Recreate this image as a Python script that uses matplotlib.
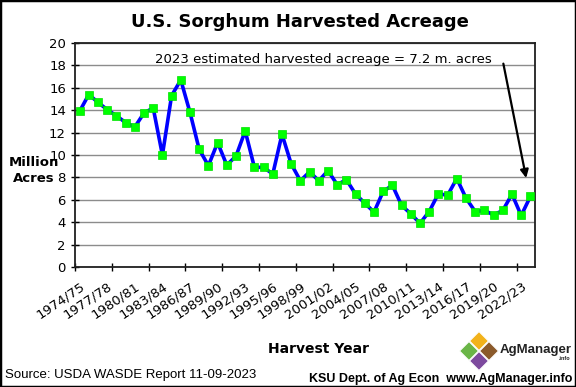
import numpy as np
import matplotlib
matplotlib.use("Agg")
from matplotlib import pyplot as plt
from matplotlib.patches import Polygon, Rectangle

# harvest years 1974/75 .. 2023/24
start_years = list(range(1974, 2024))
years = [f"{y}/{str(y + 1)[-2:]}" for y in start_years]

# million acres harvested
acres = [13.9, 15.4, 14.7, 14.05, 13.5, 12.9, 12.5, 13.75, 14.2, 10.0,
         15.3, 16.7, 13.8, 10.5, 9.05, 11.1, 9.1, 9.9, 12.15, 8.9,
         8.9, 8.3, 11.85, 9.2, 7.7, 8.5, 7.7, 8.6, 7.35, 7.8,
         6.5, 5.7, 4.9, 6.75, 7.3, 5.5, 4.75, 3.9, 4.95, 6.55,
         6.4, 7.9, 6.15, 4.95, 5.05, 4.65, 5.05, 6.5, 4.6, 6.3]

W, H = 576, 387


def px(x, y):
    # pixel position -> figure fraction
    return (x / W, 1 - y / H)


fig = plt.figure(figsize=(W / 100, H / 100), dpi=100)
ax = fig.add_axes([75 / W, 1 - 267 / H, 460 / W, 224 / H])

x = np.arange(len(acres))
ax.plot(x, acres, color="#0000FF", linewidth=2.6, marker="s", markersize=5.3,
        markerfacecolor="#00FF00", markeredgecolor="#00E000", markeredgewidth=0.5,
        zorder=3)

ax.set_xlim(-0.5, len(acres) - 0.5)
ax.set_ylim(0, 20)
ax.set_yticks(range(0, 21, 2))
ax.yaxis.grid(True, color="#8c8c8c", linewidth=1)
ax.set_axisbelow(True)
ax.tick_params(axis="y", direction="inout", length=6, labelsize=9.5, width=1)

lab_idx = list(range(0, len(years), 3))
ax.set_xticks(lab_idx)
ax.set_xticklabels([years[i] for i in lab_idx], rotation=34, ha="right",
                   rotation_mode="anchor", fontsize=9.5)
ax.tick_params(axis="x", which="major", length=0, pad=9)
ax.set_xticks(np.arange(-0.5, len(years) - 1, 4), minor=True)
ax.tick_params(axis="x", which="minor", direction="inout", length=6, width=1)

for s in ax.spines.values():
    s.set_color("#202020")
    s.set_linewidth(1.3)

ax.text(0.54, 0.955, "2023 estimated harvested acreage = 7.2 m. acres",
        transform=ax.transAxes, ha="center", va="top", fontsize=9.5)
ax.annotate("", xy=(48.6, 7.7), xytext=(46.0, 18.4),
            arrowprops=dict(arrowstyle="-|>", color="black", lw=1.6,
                            mutation_scale=12))

fig.text(*px(300, 22), "U.S. Sorghum Harvested Acreage", ha="center",
         va="center", fontsize=13, fontweight="bold")
fig.text(*px(34, 162), "Million", ha="center", va="center", fontsize=9.5,
         fontweight="bold")
fig.text(*px(34, 178), "Acres", ha="center", va="center", fontsize=9.5,
         fontweight="bold")
fig.text(*px(318, 349), "Harvest Year", ha="center", va="center",
         fontsize=10, fontweight="bold")
fig.text(*px(5, 375), "Source: USDA WASDE Report 11-09-2023", ha="left",
         va="center", fontsize=9.5, family="Liberation Sans")
fig.text(*px(572, 379), "KSU Dept. of Ag Econ  www.AgManager.info",
         ha="right", va="center", fontsize=9, fontweight="bold",
         family="Liberation Sans")

# AgManager logo: four diamonds + name
dia = [((479, 341), "#f2b21b"), ((469, 351), "#6ab547"),
       ((489, 351), "#8b5a2b"), ((479, 361), "#7d4a9e")]
r = 9.5
for (cx, cy), col in dia:
    pts = [px(cx, cy - r), px(cx + r, cy), px(cx, cy + r), px(cx - r, cy)]
    fig.patches.append(Polygon(pts, closed=True, transform=fig.transFigure,
                               facecolor=col, edgecolor="white", lw=0.8))
fig.text(*px(500, 350), "AgManager", ha="left", va="center", fontsize=9.5,
         fontweight="bold", color="#222222", family="Liberation Sans")
fig.text(*px(570, 359), ".info", ha="right", va="center", fontsize=4,
         fontweight="bold", color="#222222", family="Liberation Sans")

fig.patches.append(Rectangle((0, 0), 1, 1, transform=fig.transFigure,
                             fill=False, edgecolor="black", lw=2.5))

fig.savefig("out.png", dpi=100)
